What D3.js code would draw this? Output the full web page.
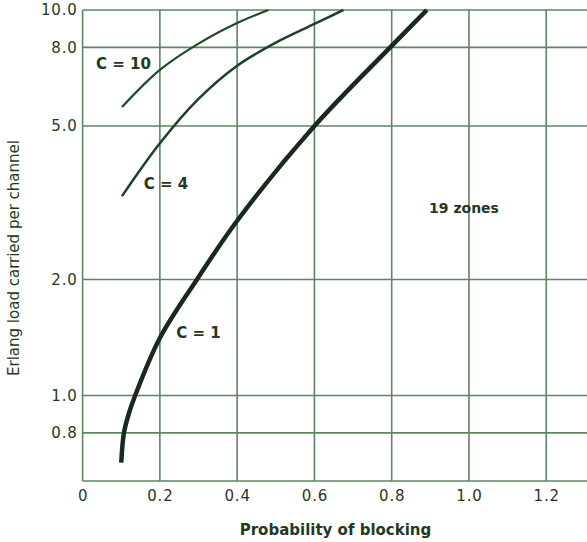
<!DOCTYPE html>
<html>
<head>
<meta charset="utf-8">
<script src="https://cdn.jsdelivr.net/npm/d3@7"></script>
<style>
  html, body { margin: 0; padding: 0; background: #ffffff; }
  svg { display: block; }
</style>
</head>
<body>
<svg id="chart" width="587" height="542"></svg>
<script>
// ---- data ----
const xTicks = [0, 0.2, 0.4, 0.6, 0.8, 1.0, 1.2];
const xTickLabels = ["0", "0.2", "0.4", "0.6", "0.8", "1.0", "1.2"];
const yTicks = [0.8, 1.0, 2.0, 5.0, 8.0, 10.0];
const yTickLabels = ["0.8", "1.0", "2.0", "5.0", "8.0", "10.0"];

const c1X = [0.100, 0.107, 0.120, 0.136, 0.200, 0.296, 0.400, 0.600, 0.796, 0.891];
const c1Y = [0.67, 0.80, 0.90, 1.00, 1.41, 2.00, 2.84, 5.00, 8.00, 10.00];

const c4X = [0.102, 0.200, 0.300, 0.400, 0.500, 0.600, 0.675];
const c4Y = [3.29, 4.51, 5.88, 7.17, 8.23, 9.20, 10.00];

const c10X = [0.102, 0.200, 0.300, 0.400, 0.481];
const c10Y = [5.60, 6.99, 8.18, 9.25, 10.00];

const xLabel = "Probability of blocking";
const yLabel = "Erlang load carried per channel";
const curveLabels = ["C = 10", "C = 4", "C = 1"];
const zonesLabel = "19 zones";

// ---- layout ----
const svg = d3.select("#chart");
const pLeft = 82.6, pRight = 587, pTop = 10, pBottom = 481;
const x = d3.scaleLinear().domain([0, 1.3055]).range([pLeft, pRight]);
const y = d3.scaleLog().domain([0.6, 10]).range([pBottom, pTop]);

const gridColor = "#5f8563";
const textColor = "#1f3a23";

// grid
const grid = svg.append("g");
grid.selectAll("line.v").data(xTicks).enter().append("line")
  .attr("x1", d => x(d)).attr("x2", d => x(d))
  .attr("y1", pTop).attr("y2", pBottom)
  .attr("stroke", gridColor).attr("stroke-width", 1.6);
grid.selectAll("line.h").data(yTicks.concat([0.6])).enter().append("line")
  .attr("x1", pLeft).attr("x2", pRight)
  .attr("y1", d => y(d)).attr("y2", d => y(d))
  .attr("stroke", gridColor).attr("stroke-width", 1.6);

// axes (labels only, via d3 axes with no lines)
const xAxis = d3.axisBottom(x).tickValues(xTicks)
  .tickFormat((d, i) => xTickLabels[i]).tickSize(0).tickPadding(9);
const gx = svg.append("g").attr("transform", `translate(0,${pBottom})`).call(xAxis);
gx.select(".domain").remove();
gx.selectAll("text").attr("fill", textColor)
  .style("font-family", "DejaVu Sans, sans-serif").style("font-size", "15px")
  .style("letter-spacing", "0.8px");

const yAxis = d3.axisLeft(y).tickValues(yTicks)
  .tickFormat((d, i) => yTickLabels[i]).tickSize(0).tickPadding(5);
const gy = svg.append("g").attr("transform", `translate(${pLeft},0)`).call(yAxis);
gy.select(".domain").remove();
gy.selectAll("text").attr("fill", textColor)
  .style("font-family", "DejaVu Sans, sans-serif").style("font-size", "15px")
  .style("letter-spacing", "0.8px");

// curves
const line = d3.line().x(d => x(d[0])).y(d => y(d[1])).curve(d3.curveCatmullRom.alpha(0.5));
function series(xs, ys) { return xs.map((v, i) => [v, ys[i]]); }

svg.append("path").datum(series(c10X, c10Y)).attr("d", line)
  .attr("fill", "none").attr("stroke", "#1f4a2a").attr("stroke-width", 2.2);
svg.append("path").datum(series(c4X, c4Y)).attr("d", line)
  .attr("fill", "none").attr("stroke", "#1c4226").attr("stroke-width", 2.5);
svg.append("path").datum(series(c1X, c1Y)).attr("d", line)
  .attr("fill", "none").attr("stroke", "#172a1c").attr("stroke-width", 4.5);

// annotation labels
const labelFont = "DejaVu Sans, sans-serif";
function note(txt, cx, cy, size) {
  svg.append("text").attr("x", cx).attr("y", cy)
    .attr("text-anchor", "middle").attr("dominant-baseline", "central")
    .attr("fill", textColor).style("font-family", labelFont)
    .style("font-size", size + "px").style("font-weight", "bold")
    .text(txt);
}
note(curveLabels[0], 123.5, 64, 15);
note(curveLabels[1], 166, 184, 15);
note(curveLabels[2], 198.5, 333, 15);
note(zonesLabel, 464, 208, 14);

// axis titles
svg.append("text").attr("x", 335.5).attr("y", 530)
  .attr("text-anchor", "middle").attr("dominant-baseline", "central")
  .attr("fill", textColor).style("font-family", labelFont)
  .style("font-size", "15px").style("font-weight", "bold")
  .text(xLabel);
svg.append("text")
  .attr("transform", "translate(14,258) rotate(-90)")
  .attr("text-anchor", "middle").attr("dominant-baseline", "central")
  .attr("fill", textColor).style("font-family", labelFont)
  .style("font-size", "15px")
  .text(yLabel);
</script>
</body>
</html>
